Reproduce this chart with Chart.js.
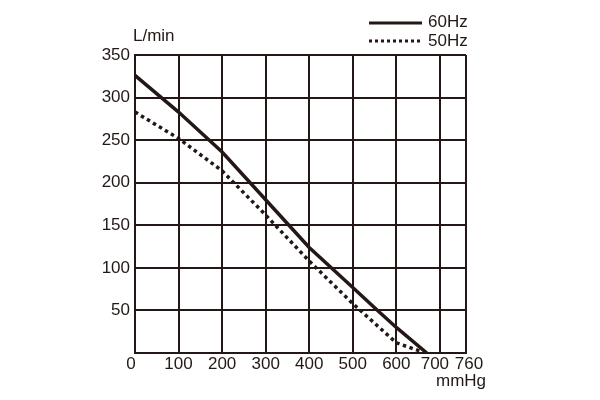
<!DOCTYPE html>
<html>
<head>
<meta charset="utf-8">
<script src="https://cdn.jsdelivr.net/npm/chart.js@4"></script>
<style>
  html, body { margin: 0; padding: 0; background: #fff; }
  #wrap { width: 600px; height: 400px; }
</style>
</head>
<body>
<div id="wrap"><canvas id="pumpChart" width="600" height="400"></canvas></div>
<script>
// 曲線數據 (mmHg -> L/min)
const pressure60 = [0, 100, 200, 300, 400, 500, 557, 600, 670];
const flow60 = [326, 283, 236, 180, 124, 77, 50, 30, 0];
const pressure50 = [0, 100, 200, 300, 400, 500, 600, 650, 670];
const flow50 = [283, 252, 214, 162, 108, 58, 12, 3, 0];
const xTicks = [0, 100, 200, 300, 400, 500, 600, 700, 760];
const yTicks = [50, 100, 150, 200, 250, 300, 350];
const seriesNames = ['60Hz', '50Hz'];

const ink = '#231815';
const fontFamily = '"Liberation Sans", Arial, sans-serif';
const fontSize = 17;

function toPoints(xs, ys) {
    return xs.map((x, i) => ({ x: x, y: ys[i] }));
}

// 圖例、軸標題和 x 軸刻度文字
const labelsPlugin = {
    id: 'labels',
    afterDraw(chart) {
        const ctx = chart.ctx;
        const xScale = chart.scales.x;
        ctx.save();
        ctx.fillStyle = ink;
        ctx.strokeStyle = ink;
        ctx.font = fontSize + 'px ' + fontFamily;
        ctx.textBaseline = 'middle';

        // x 軸刻度 (700 和 760 太近，稍微錯開)
        ctx.textAlign = 'center';
        xTicks.forEach(v => {
            let dx = 0;
            if (v === 0) dx = -4;
            if (v === 700) dx = -5;
            if (v === 760) dx = 3;
            ctx.fillText(String(v), xScale.getPixelForValue(v) + dx, 364);
        });

        ctx.textAlign = 'left';
        ctx.fillText('L/min', 133, 36);
        ctx.fillText('mmHg', 436, 381);

        // 圖例
        ctx.lineWidth = 3;
        ctx.setLineDash([]);
        ctx.beginPath();
        ctx.moveTo(369, 23);
        ctx.lineTo(422, 23);
        ctx.stroke();
        ctx.setLineDash([3, 3]);
        ctx.beginPath();
        ctx.moveTo(369, 41);
        ctx.lineTo(422, 41);
        ctx.stroke();
        ctx.fillText(seriesNames[0], 428, 22);
        ctx.fillText(seriesNames[1], 428, 41);
        ctx.restore();
    }
};

const ctx = document.getElementById('pumpChart').getContext('2d');
const chart = new Chart(ctx, {
    type: 'line',
    data: {
        datasets: [
            {
                label: seriesNames[0],
                data: toPoints(pressure60, flow60),
                borderColor: ink,
                borderWidth: 3.5,
                pointRadius: 0,
                tension: 0,
                fill: false
            },
            {
                label: seriesNames[1],
                data: toPoints(pressure50, flow50),
                borderColor: ink,
                borderWidth: 3.5,
                borderDash: [3.5, 3.5],
                pointRadius: 0,
                tension: 0,
                fill: false
            }
        ]
    },
    options: {
        responsive: false,
        animation: false,
        layout: { padding: { left: 0, right: 134, top: 55, bottom: 0 } },
        plugins: {
            legend: { display: false },
            tooltip: { enabled: false }
        },
        scales: {
            x: {
                type: 'linear',
                min: 0,
                max: 760,
                afterBuildTicks: s => { s.ticks = xTicks.map(v => ({ value: v })); },
                afterFit: s => { s.height = 47; },
                grid: { color: ink, lineWidth: 2, drawTicks: false },
                border: { color: ink, width: 2 },
                ticks: { display: false }
            },
            y: {
                type: 'linear',
                min: 0,
                max: 350,
                afterBuildTicks: s => { s.ticks = [0].concat(yTicks).map(v => ({ value: v })); },
                afterFit: s => { s.width = 135; },
                grid: { color: ink, lineWidth: 2, drawTicks: false },
                border: { color: ink, width: 2 },
                ticks: {
                    color: ink,
                    font: { family: fontFamily, size: fontSize },
                    padding: 5,
                    callback: v => (v === 0 ? '' : v)
                }
            }
        }
    },
    plugins: [labelsPlugin]
});
</script>
</body>
</html>
